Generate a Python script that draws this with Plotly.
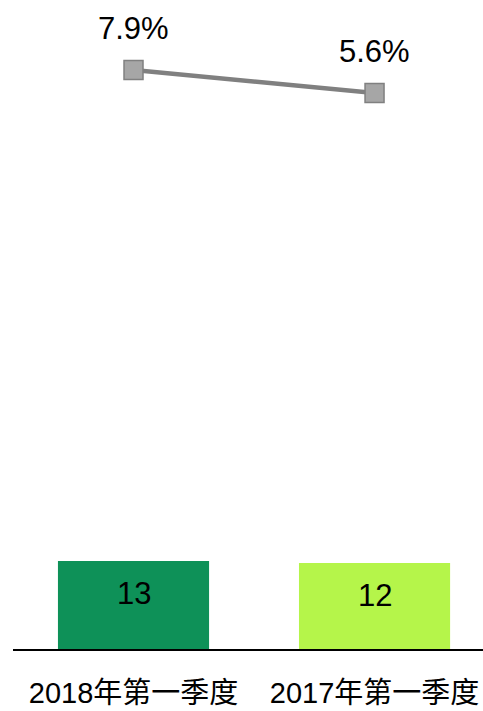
import plotly.graph_objects as go

categories = ["2018年第一季度", "2017年第一季度"]
bar_values = [12.7, 12.4]
bar_labels = ["13", "12"]
rate_values = [7.9, 5.6]
rate_labels = ["7.9%", "5.6%"]
bar_colors = ["#0E9158", "#B5F54A"]

FONT = "Liberation Sans, Arial, Noto Sans CJK SC, sans-serif"

fig = go.Figure()
fig.add_trace(go.Bar(
    x=categories, y=bar_values, marker=dict(color=bar_colors, line=dict(width=0)),
    width=0.627, hoverinfo="skip", showlegend=False,
))
fig.add_trace(go.Scatter(
    x=categories, y=rate_values, yaxis="y2", mode="lines+markers",
    line=dict(color="#808080", width=4.5),
    marker=dict(symbol="square", size=19, color="#A6A6A6", line=dict(color="#808080", width=1.5)),
    showlegend=False, hoverinfo="skip",
))

annotations = []
for c, v, t in zip(categories, bar_values, bar_labels):
    annotations.append(dict(x=c, y=v, xref="x", yref="y", text=t, showarrow=False,
                            yshift=-32, font=dict(family=FONT, size=31, color="black")))
for c, v, t in zip(categories, rate_values, rate_labels):
    annotations.append(dict(x=c, y=v, xref="x", yref="y2", text=t, showarrow=False,
                            yshift=42, font=dict(family=FONT, size=31, color="black")))

fig.update_layout(
    width=483, height=711,
    margin=dict(l=13, r=0, t=0, b=62, autoexpand=False),
    paper_bgcolor="white", plot_bgcolor="white",
    font=dict(family=FONT, color="black"),
    annotations=annotations,
    xaxis=dict(range=[-0.5, 1.45], showline=True, linecolor="black", linewidth=1.5,
               showgrid=False, zeroline=False, ticks="", automargin=False,
               ticklabelstandoff=18,
               tickfont=dict(family=FONT, size=29, color="black")),
    yaxis=dict(range=[0, 649 / (88 / 12.7)], visible=False, showgrid=False, zeroline=False),
    yaxis2=dict(range=[-50, 14.9], overlaying="y", visible=False, showgrid=False, zeroline=False),
    bargap=0.373,
)

fig.write_html(
    "out.html",
    config={"displayModeBar": False, "staticPlot": True},
    post_script="document.body.style.margin='0';document.body.style.overflow='hidden';",
)
